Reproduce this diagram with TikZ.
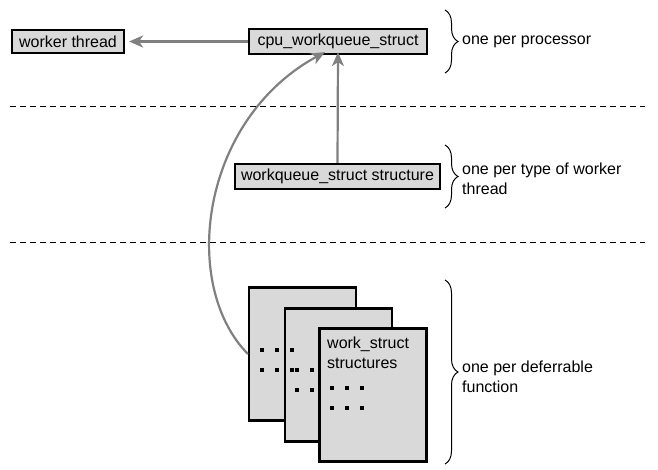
\documentclass[tikz,border=0pt]{standalone}
\usepackage{fontspec}
\setmainfont{Liberation Sans}
\usetikzlibrary{arrows.meta,decorations.pathreplacing}

\begin{document}
\begin{tikzpicture}[x=1pt, y=-1pt,
  every node/.style={font=\fontsize{16}{20}\selectfont},
  box/.style={draw, line width=2.2pt, fill=gray!30, inner sep=0pt},
  page/.style={draw, line width=2.2pt, fill=gray!30, inner sep=0pt, minimum width=107pt, minimum height=133pt},
  link/.style={draw=gray, line width=2.2pt, -{Stealth[length=14pt, width=12pt, inset=4pt]}},
  brc/.style={decorate, decoration={brace, amplitude=13pt}, line width=1pt},
  note/.style={anchor=west, align=left, inner sep=0pt}]
  \useasboundingbox (0,0) rectangle (658,470);

  % structures
  \node[box, minimum width=112pt, minimum height=23pt] (worker) at (68,41.5) {worker thread};
  \node[box, minimum width=178pt, minimum height=25pt] (cpu) at (338,41.5) {cpu\_workqueue\_struct};
  \node[box, minimum width=205pt, minimum height=25pt] (wq) at (337.5,176.5) {workqueue\_struct structure};

  % work_struct pages
  \node[page] (pageA) at (302.5,354) {};
  \node[page] (pageB) at (338.5,375) {};
  \foreach \y in {350,370} \foreach \x in {262,277,292} \fill ({\x-1.7},{\y-1.7}) rectangle ++(3.4,3.4);
  \foreach \y in {370,390} \foreach \x in {297,312,327} \fill ({\x-1.7},{\y-1.7}) rectangle ++(3.4,3.4);
  \node[page] (pageC) at (373,395) {};
  \node[anchor=north west, align=left, inner sep=0pt] (label) at (327,337) {work\_struct\\structures};
  \foreach \y in {388,408} \foreach \x in {332,347,362} \fill ({\x-1.7},{\y-1.7}) rectangle ++(3.4,3.4);

  % arrows
  \draw[link] (cpu) -- ([xshift=4pt]worker.east);
  \draw[link] (wq.north) -- ([yshift=3pt]cpu.south);
  \draw[link] (pageA.west) .. controls (180,285) and (200,120) .. ([xshift=-13pt, yshift=3pt]cpu.south);

  % separators
  \draw[dash pattern=on 6pt off 4pt] (10,106) -- (645,106);
  \draw[dash pattern=on 6pt off 4pt] (10,242) -- (645,242);

  % braces and notes
  \draw[brc] (445,10) -- (445,73);
  \node[note] (n1) at (462,42) {one per processor};
  \draw[brc] (445,145) -- (445,208);
  \node[note] (n2) at (462,179) {one per type of worker\\thread};
  \draw[brc] (445,280) -- (445,464);
  \node[note] (n3) at (462,377) {one per deferrable\\function};
\end{tikzpicture}
\end{document}
